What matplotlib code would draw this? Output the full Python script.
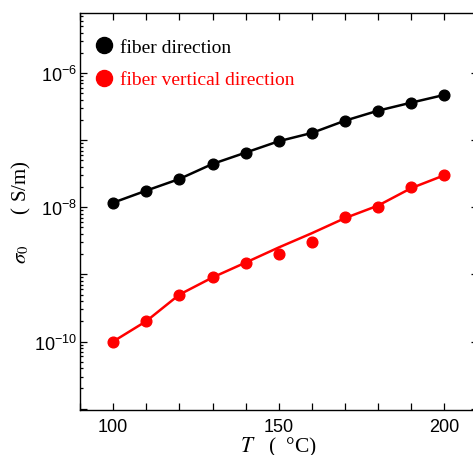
import numpy as np
import matplotlib
matplotlib.use('Agg')
import matplotlib.pyplot as plt
from matplotlib.ticker import FixedLocator, LogLocator, FuncFormatter, MultipleLocator, NullFormatter

plt.rcParams['font.family'] = ['Liberation Sans', 'DejaVu Sans']
plt.rcParams['mathtext.fontset'] = 'stix'

# temperature (degC) and conductivity (S/m)
temps = [100, 110, 120, 130, 140, 150, 160, 170, 180, 190, 200]
sigma_fiber = [1.17e-8, 1.77e-8, 2.64e-8, 4.42e-8, 6.52e-8, 9.64e-8,
               1.28e-7, 1.95e-7, 2.75e-7, 3.62e-7, 4.72e-7]
sigma_vertical = [1.0e-10, 2.01e-10, 5.01e-10, 9.0e-10, 1.50e-9, 2.0e-9,
                  3.05e-9, 7.05e-9, 1.01e-8, 2.01e-8, 3.0e-8]
# fitted curve for the vertical direction
sigma_vertical_fit = [1.0e-10, 2.01e-10, 5.0e-10, 9.0e-10, 1.50e-9, 2.52e-9,
                      4.11e-9, 6.9e-9, 1.06e-8, 1.93e-8, 3.0e-8]

serif = ['Liberation Serif', 'DejaVu Serif']

fig = plt.figure(figsize=(4.73, 4.56), dpi=100)
ax = fig.add_axes([80 / 473, 45 / 456, 397.5 / 473, 397 / 456])

ax.plot(temps, sigma_fiber, '-', color='black', lw=1.8)
ax.plot(temps, sigma_fiber, 'o', color='black', ms=7.7, label='fiber direction')
ax.plot(temps, sigma_vertical_fit, '-', color='red', lw=1.8)
ax.plot(temps, sigma_vertical, 'o', color='red', ms=7.7, label='fiber vertical direction')

ax.set_yscale('log')
ax.set_xlim(90, 210)
ax.set_ylim(10 ** -11.02, 10 ** -5.106)

ax.xaxis.set_major_locator(MultipleLocator(50))
ax.xaxis.set_minor_locator(MultipleLocator(10))
ax.yaxis.set_major_locator(FixedLocator([10.0 ** e for e in range(-11, -5)]))
ax.yaxis.set_minor_locator(LogLocator(base=10, subs=np.arange(2, 10)))
ax.yaxis.set_minor_formatter(NullFormatter())


def ylab(v, pos):
    e = int(round(np.log10(v)))
    if e % 2:
        return ''
    return r'$\mathdefault{10^{%d}}$' % e


ax.yaxis.set_major_formatter(FuncFormatter(ylab))

ax.tick_params(which='both', direction='in', top=True, right=True, width=0.9)
ax.tick_params(axis='x', which='both', length=5, labelsize=13, pad=6)
ax.tick_params(axis='y', which='major', length=5, labelsize=13, pad=2)
ax.tick_params(axis='y', which='minor', length=2.5, right=False)
for s in ax.spines.values():
    s.set_linewidth(1.0)

ax.set_xlabel(r'$T$   (  °C)', family=serif, fontsize=15.5, labelpad=0)
ax.set_ylabel(r'$\sigma_0$      ( S/m)', family=serif, fontsize=15, labelpad=1)

leg = ax.legend(loc='upper left', bbox_to_anchor=(0.0367, 0.937), borderaxespad=0,
                borderpad=0, frameon=False, handlelength=1.0, handletextpad=0.3,
                labelspacing=0.78, markerscale=1.5,
                prop={'family': serif, 'size': 14})
for txt, col in zip(leg.get_texts(), ['black', 'red']):
    txt.set_color(col)

fig.savefig('out.png', dpi=100)
